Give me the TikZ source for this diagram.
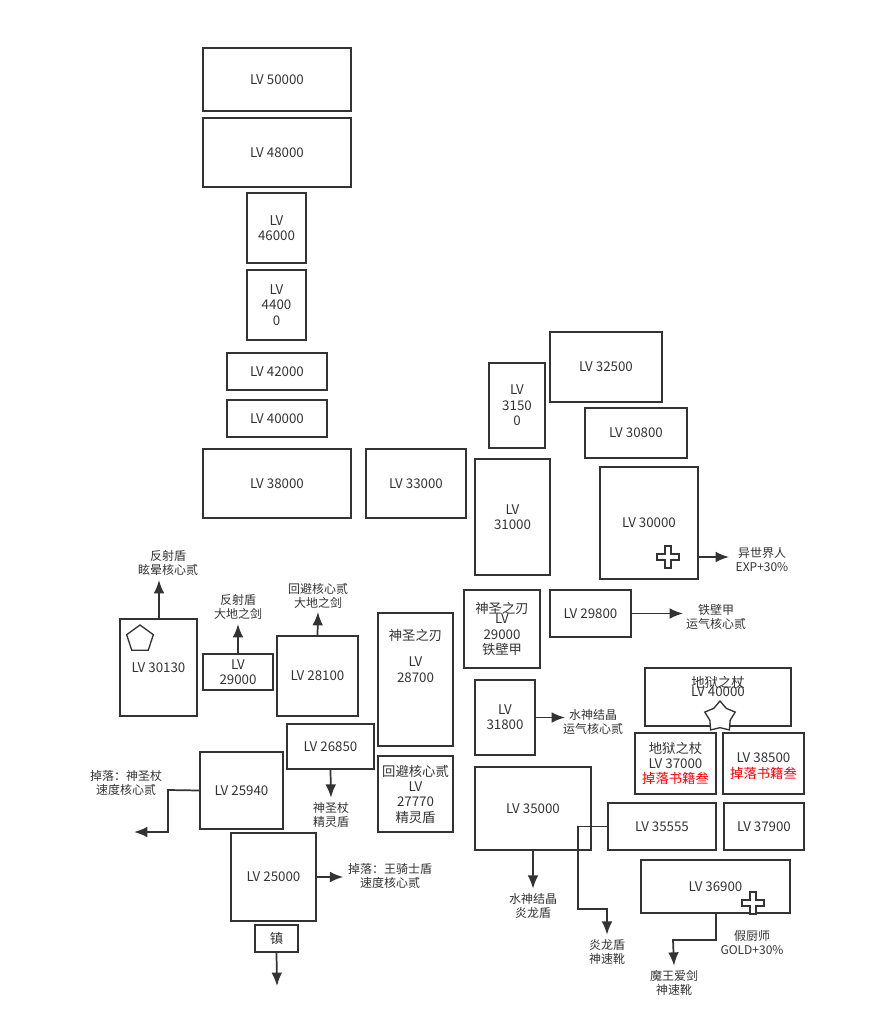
\documentclass[tikz,border=0pt]{standalone}
\usepackage{fontspec}
\setmainfont{Noto Sans CJK SC}
\usetikzlibrary{arrows.meta, shapes.geometric, positioning}
\definecolor{ink}{HTML}{333333}
\tikzset{
  lvbox/.style={draw=ink, line width=1.2pt, inner sep=1pt, align=center, text=ink},
  note/.style={align=center, text=ink, font=\fontsize{9}{10.5}\selectfont},
  flow/.style={draw=ink, line width=1.3pt, -{Latex[length=10pt,width=8pt]}},
}
% box from its corners in pixel units
\newcommand{\lvnode}[6]{%
  \node[lvbox, minimum width={(#4-#2)*0.75pt}, minimum height={(#5-#3)*0.75pt}]
    (#1) at ({(#2+#4)/2},{(#3+#5)/2}) {#6};}
\newcommand{\plusmark}[2]{%
  \draw[ink, line width=1pt, fill=white] (#1-3,#2-11) -- (#1+3,#2-11) -- (#1+3,#2-3) -- (#1+11,#2-3)
    -- (#1+11,#2+3) -- (#1+3,#2+3) -- (#1+3,#2+11) -- (#1-3,#2+11) -- (#1-3,#2+3) -- (#1-11,#2+3)
    -- (#1-11,#2-3) -- (#1-3,#2-3) -- cycle;}
\begin{document}
\begin{tikzpicture}[x=0.75pt, y=-0.75pt, font=\fontsize{10}{11.5}\selectfont]
  \useasboundingbox (0,0) rectangle (872,1034);

  % upper column
  \lvnode{lv50000}{203}{48}{351}{111}{LV 50000}
  \lvnode{lv48000}{203}{118}{351}{187}{LV 48000}
  \lvnode{lv46000}{247}{193}{306}{263}{LV\\46000}
  \lvnode{lv44000}{247}{270}{306}{340}{LV\\4400\\0}
  \lvnode{lv42000}{227}{353}{327}{390}{LV 42000}
  \lvnode{lv40000}{227}{400}{327}{437}{LV 40000}
  \lvnode{lv38000}{203}{449}{351}{518}{LV 38000}
  \lvnode{lv33000}{366}{449}{466}{518}{LV 33000}

  % right upper group
  \lvnode{lv31500}{489}{363}{545}{448}{LV\\3150\\0}
  \lvnode{lv32500}{550}{332}{662}{402}{LV 32500}
  \lvnode{lv30800}{585}{408}{687}{458}{LV 30800}
  \lvnode{lv31000}{475}{459}{550}{575}{LV\\31000}
  \lvnode{lv30000}{600}{467}{698}{579}{LV 30000}
  \plusmark{668}{557}
  \node[note] (exp) at (762,560) {异世界人\\EXP+30\%};
  \coordinate (expin) at (729,557);
  \draw[flow] (lv30000.east |- expin) -- (expin);

  % left lower group
  \lvnode{lv30130}{120}{619}{197}{716}{LV 30130}
  \node[regular polygon, regular polygon sides=5, draw=ink, line width=1pt, minimum size=21pt, inner sep=0pt]
    (penta) at (140,639) {};
  \node[note] (drop30130) at (168,563) {反射盾\\眩晕核心贰};
  \draw[flow] (159,619) -- (159,580);
  \lvnode{lv29000a}{203}{654}{273}{690}{LV\\29000}
  \node[note] (drop29000a) at (238,607) {反射盾\\大地之剑};
  \draw[flow] (lv29000a.north) -- (238,624);
  \lvnode{lv28100}{277}{636}{358}{716}{LV 28100}
  \node[note] (drop28100) at (318,596) {回避核心贰\\大地之剑};
  \draw[flow] (lv28100.north) -- (318,612);
  \lvnode{lv28700}{378}{613}{453}{746}{神圣之刃\\[8pt]LV\\28700\\[24pt]}
  \lvnode{lv26850}{287}{724}{374}{769}{LV 26850}
  \node[note] (drop26850) at (331,815) {神圣杖\\精灵盾};
  \draw[flow] (lv26850.south) -- (drop26850.north);
  \lvnode{lv27770}{378}{756}{453}{832}{回避核心贰\\LV\\27770\\精灵盾}
  \lvnode{lv25940}{200}{752}{283}{829}{LV 25940}
  \node[note] (drop25940) at (126,783) {掉落：神圣杖\\速度核心贰};
  \coordinate (out25940) at (134,832);
  \draw[flow] (lv25940.west) -- (168,790) -- (168,832) -- (out25940);
  \lvnode{lv25000}{231}{833}{316}{921}{LV 25000}
  \node[note] (drop25000) at (390,876) {掉落：王骑士盾\\速度核心贰};
  \draw[flow] (lv25000.east) -- (drop25000.west |- lv25000.east);
  \lvnode{zhen}{255}{925}{298}{952}{镇}
  \coordinate (outzhen) at (277,986);
  \draw[flow] (zhen.south) -- (outzhen);

  % right lower group
  \lvnode{lv29000b}{464}{590}{540}{668}{神圣之刃\\[-4pt]LV\\29000\\铁壁甲}
  \lvnode{lv29800}{550}{590}{631}{637}{LV 29800}
  \node[note] (drop29800) at (716,617) {铁壁甲\\运气核心贰};
  \draw[flow] (lv29800.east) -- (683,613.5);
  \lvnode{lv31800}{475}{680}{535}{755}{LV\\31800}
  \node[note] (drop31800) at (593,722) {水神结晶\\运气核心贰};
  \draw[flow] (lv31800.east) -- (565,717.5);
  \lvnode{lv40000r}{645}{668}{791}{726}{地狱之杖\\[-5pt]LV 40000\\[4pt]}
  \node[star, star points=5, draw=ink, line width=1pt, fill=white, minimum size=24pt, inner sep=0pt]
    (starmark) at (720,717) {};
  \lvnode{lv37000}{635}{733}{716}{794}{地狱之杖\\LV 37000\\\textcolor{red}{掉落书籍叁}}
  \lvnode{lv38500}{723}{733}{804}{794}{\\LV 38500\\\textcolor{red}{掉落书籍叁}}
  \lvnode{lv35000}{475}{767}{591}{850}{LV 35000}
  \node[note] (drop35000) at (533,906) {水神结晶\\炎龙盾};
  \draw[flow] (533,850) -- (drop35000.north);
  \lvnode{lv35555}{608}{803}{716}{850}{LV 35555}
  \node[note] (drop35555) at (607,952) {炎龙盾\\神速靴};
  \draw[flow] (lv35555.west) -- (578,826.5) -- (578,909) -- (607,909) -- (drop35555.north);
  \lvnode{lv37900}{724}{803}{804}{850}{LV 37900}
  \lvnode{lv36900}{641}{860}{790}{913}{LV 36900}
  \plusmark{753}{903}
  \node[note] (gold) at (752,943) {假厨师\\GOLD+30\%};
  \node[note] (drop36900) at (674,983) {魔王爱剑\\神速靴};
  \draw[flow] (716,913) -- (716,940) -- (673,940) -- (drop36900.north);
\end{tikzpicture}
\end{document}
